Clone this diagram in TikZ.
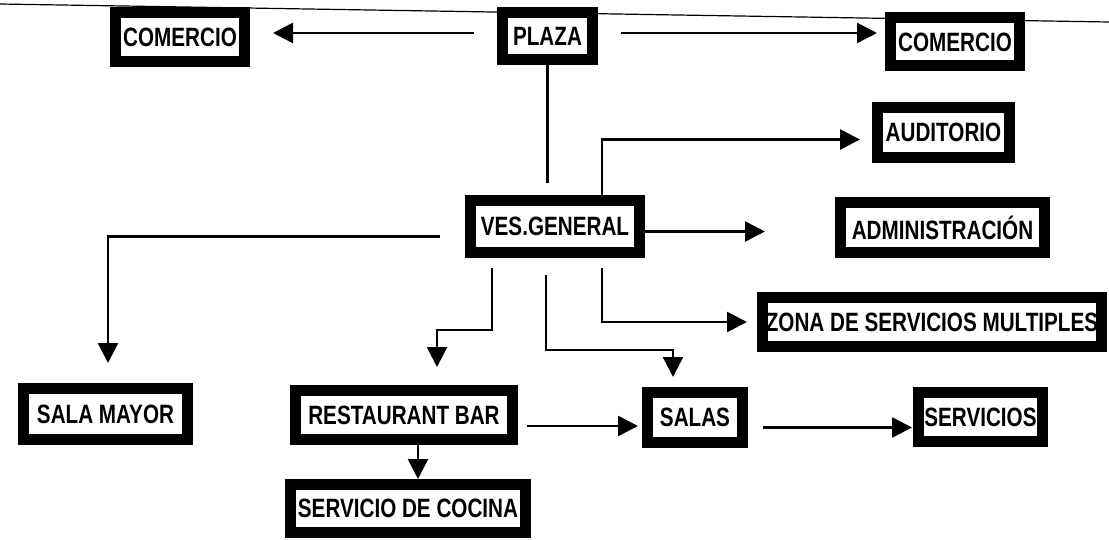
\documentclass[tikz,border=0pt]{standalone}
\usepackage{fontspec}
\setmainfont{Liberation Sans}[FakeStretch=0.78]
\usetikzlibrary{arrows.meta}
\begin{document}
\begin{tikzpicture}[x=1pt,y=-1pt,
  box/.style={draw=black, line width=11pt, fill=white, inner sep=0pt, outer sep=5.5pt,
    font=\fontsize{26.5}{30}\selectfont\bfseries, align=center},
  conn/.style={line width=2.6pt},
  arr/.style={conn, -{Triangle[length=20pt,width=20pt]}},
  scanline/.style={line width=1.2pt}]
\useasboundingbox (0,0) rectangle (1109,540);
\draw[scanline] (0,4) -- (1109,22);
% nodes
\node[box, minimum width=129pt, minimum height=49pt] (comL)   at (180,37)    {COMERCIO};
\node[box, minimum width=90pt,  minimum height=47pt] (plaza)  at (547.5,36)  {PLAZA};
\node[box, minimum width=129pt, minimum height=48pt] (comR)   at (955,42)    {COMERCIO};
\node[box, minimum width=132pt, minimum height=50pt] (aud)    at (943.5,132.5) {AUDITORIO};
\node[box, minimum width=169pt, minimum height=52pt] (ves)    at (555,226.5) {VES.GENERAL};
\node[box, minimum width=204pt, minimum height=50pt] (adm)    at (942.5,227.5) {ADMINISTRACIÓN};
\node[box, minimum width=339pt, minimum height=49pt] (zona)   at (932,322)   {ZONA DE SERVICIOS MULTIPLES};
\node[box, minimum width=164pt, minimum height=51pt] (salaM)  at (105.5,414) {SALA MAYOR};
\node[box, minimum width=217pt, minimum height=49pt] (rest)   at (404,415)   {RESTAURANT BAR};
\node[box, minimum width=95pt,  minimum height=50pt] (salas)  at (695,417.5) {SALAS};
\node[box, minimum width=124pt, minimum height=49pt] (serv)   at (980.5,417) {SERVICIOS};
\node[box, minimum width=235pt, minimum height=48pt] (cocina) at (408,508.5) {SERVICIO DE COCINA};
% connectors
\draw[arr, shorten <=23pt, shorten >=23pt] ([yshift=3pt]plaza.west) -- ([yshift=3pt]plaza.west -| comL.east);
\draw[arr, shorten <=23pt, shorten >=8pt] ([yshift=3pt]plaza.east) -- ([yshift=3pt]plaza.east -| comR.west);
\draw[conn, shorten >=12pt] (plaza.south) -- (plaza.south |- ves.north);
\draw[arr, shorten >=12pt] ([xshift=47pt]ves.north) |- ([yshift=-7pt]aud.west);
\draw[arr, shorten >=70pt] ([yshift=-5pt]ves.east) -- ([yshift=-5pt]ves.east -| adm.west);
\draw[arr, shorten <=25pt, shorten >=20pt] ([yshift=-10pt]ves.west) -| ([xshift=2.5pt]salaM.north);
\draw[arr, shorten <=10pt, shorten >=18pt] ([xshift=-63pt]ves.south) -- ++(0,72) -| ([xshift=33pt]rest.north);
\draw[arr, shorten <=17pt, shorten >=10pt] ([xshift=-9pt]ves.south) -- ++(0,92) -| ([xshift=-22pt]salas.north);
\draw[arr, shorten <=10pt, shorten >=10pt] ([xshift=47pt]ves.south) |- (zona.west);
\draw[arr] ([xshift=14pt]rest.south) -- ([xshift=14pt]rest.south |- cocina.north);
\draw[arr, shorten <=9pt, shorten >=4pt] ([yshift=-11pt]rest.east) -- ([yshift=-11pt]rest.east -| salas.west);
\draw[arr, shorten <=15pt, shorten >=1pt] ([yshift=-10pt]salas.east) -- ([yshift=-10pt]salas.east -| serv.west);
\end{tikzpicture}
\end{document}
